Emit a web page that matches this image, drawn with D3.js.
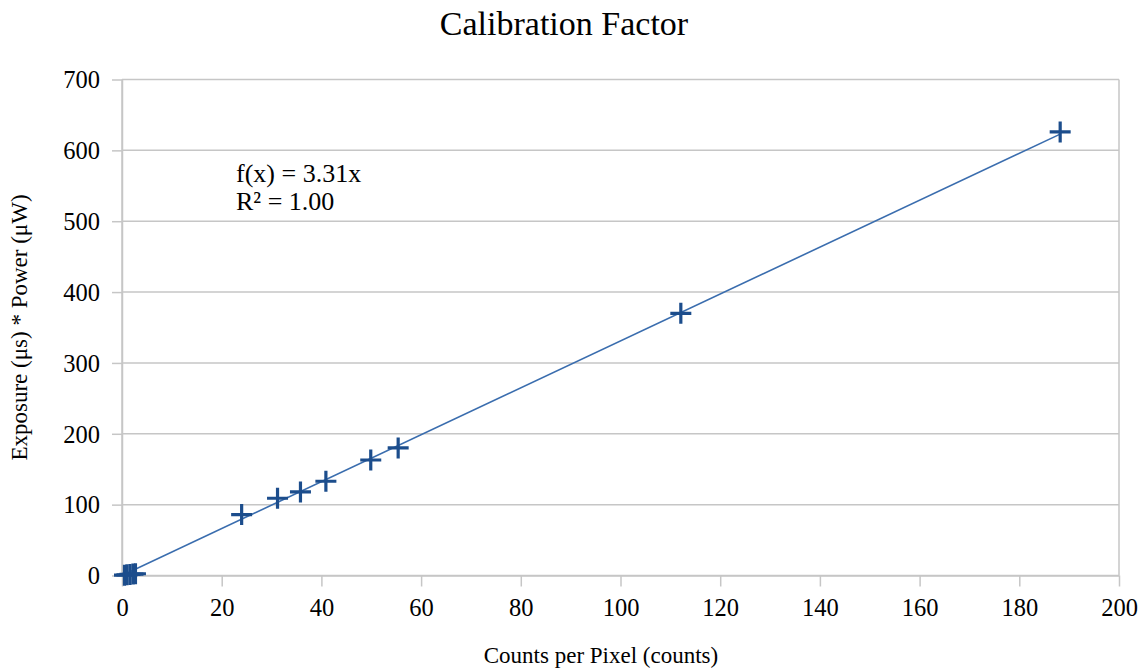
<!DOCTYPE html>
<html>
<head>
<meta charset="utf-8">
<script src="https://cdn.jsdelivr.net/npm/d3@7"></script>
<style>
  html, body { margin: 0; padding: 0; background: #fff; }
  svg { display: block; font-family: "Liberation Serif", "Times New Roman", serif; }
</style>
</head>
<body>
<svg id="chart" width="1146" height="669"></svg>
<script>
// Measurements: counts per pixel vs. exposure * power
const countsPerPixel = [0.5, 1.0, 1.6, 2.2, 2.7, 24, 31.2, 35.8, 40.9, 49.9, 55.4, 112.1, 188.2];
const exposurePower  = [0.5, 1.0, 1.5, 2.0, 2.5, 86, 109, 118, 133, 163, 180, 370, 626];

// Linear fit through the origin
const fitSlope = 3.31;
const fitR2 = 1.00;

const xTicks = [0, 20, 40, 60, 80, 100, 120, 140, 160, 180, 200];
const yTicks = [0, 100, 200, 300, 400, 500, 600, 700];

const svg = d3.select("#chart");
const margin = { left: 122, right: 27, top: 79.5, bottom: 93.5 };
const W = 1146, H = 669;

const x = d3.scaleLinear().domain([0, 200]).range([margin.left, W - margin.right]);
const y = d3.scaleLinear().domain([0, 700]).range([H - margin.bottom, margin.top]);

const gridColor = "#c6c6c6";

// Horizontal gridlines
svg.append("g").selectAll("line").data(yTicks).join("line")
  .attr("x1", x(0)).attr("x2", x(200))
  .attr("y1", d => y(d)).attr("y2", d => y(d))
  .attr("stroke", gridColor).attr("stroke-width", 1.5);

// Frame: left axis and right border
svg.append("line").attr("x1", x(0)).attr("x2", x(0)).attr("y1", y(0)).attr("y2", y(700))
  .attr("stroke", gridColor).attr("stroke-width", 1.5);
svg.append("line").attr("x1", x(200)).attr("x2", x(200)).attr("y1", y(0)).attr("y2", y(700))
  .attr("stroke", gridColor).attr("stroke-width", 1.5);

// Axes
const xAxis = svg.append("g").attr("transform", `translate(0,${y(0)})`)
  .call(d3.axisBottom(x).tickValues(xTicks).tickSize(11).tickPadding(12).tickSizeOuter(0));
const yAxis = svg.append("g").attr("transform", `translate(${x(0)},0)`)
  .call(d3.axisLeft(y).tickValues(yTicks).tickSize(10).tickPadding(12).tickSizeOuter(0));

[xAxis, yAxis].forEach(g => {
  g.select(".domain").attr("stroke", gridColor).attr("stroke-width", 1.5);
  g.selectAll(".tick line").attr("stroke", gridColor).attr("stroke-width", 1.5);
  g.selectAll(".tick text")
    .attr("fill", "#000")
    .style("font-family", "'Liberation Serif', 'Times New Roman', serif")
    .style("font-size", "24.5px");
});
xAxis.selectAll(".tick text").attr("dy", "0.72em");
yAxis.selectAll(".tick text").attr("dy", "0.34em");

// Trend line
svg.append("line")
  .attr("x1", x(0)).attr("y1", y(0))
  .attr("x2", x(d3.max(countsPerPixel))).attr("y2", y(fitSlope * d3.max(countsPerPixel)))
  .attr("stroke", "#3a6dae").attr("stroke-width", 1.6);

// Cross markers
const pts = countsPerPixel.map((c, i) => ({ c, p: exposurePower[i] }));
const arm = 10.5;
svg.append("g").selectAll("path").data(pts).join("path")
  .attr("transform", d => `translate(${x(d.c)},${y(d.p)})`)
  .attr("d", `M${-arm},0H${arm}M0,${-arm}V${arm}`)
  .attr("stroke", "#1c4d8c").attr("stroke-width", 3.2).attr("fill", "none");

// Title
svg.append("text").attr("x", 564).attr("y", 35).attr("text-anchor", "middle")
  .style("font-size", "34px").attr("fill", "#000").text("Calibration Factor");

// Axis titles
svg.append("text").attr("x", 601).attr("y", 663).attr("text-anchor", "middle")
  .style("font-size", "23px").attr("fill", "#000").text("Counts per Pixel (counts)");
svg.append("text").attr("transform", `translate(27,${(y(0) + y(700)) / 2}) rotate(-90)`)
  .attr("text-anchor", "middle")
  .style("font-size", "23px").attr("fill", "#000").text("Exposure (μs) * Power (μW)");

// Fit equation
const eq = svg.append("text").attr("x", 236).attr("y", 182).style("font-size", "26px").attr("fill", "#000");
eq.append("tspan").attr("x", 236).text(`f(x) = ${fitSlope.toFixed(2)}x`);
eq.append("tspan").attr("x", 236).attr("dy", 28).text(`R² = ${fitR2.toFixed(2)}`);
</script>
</body>
</html>
